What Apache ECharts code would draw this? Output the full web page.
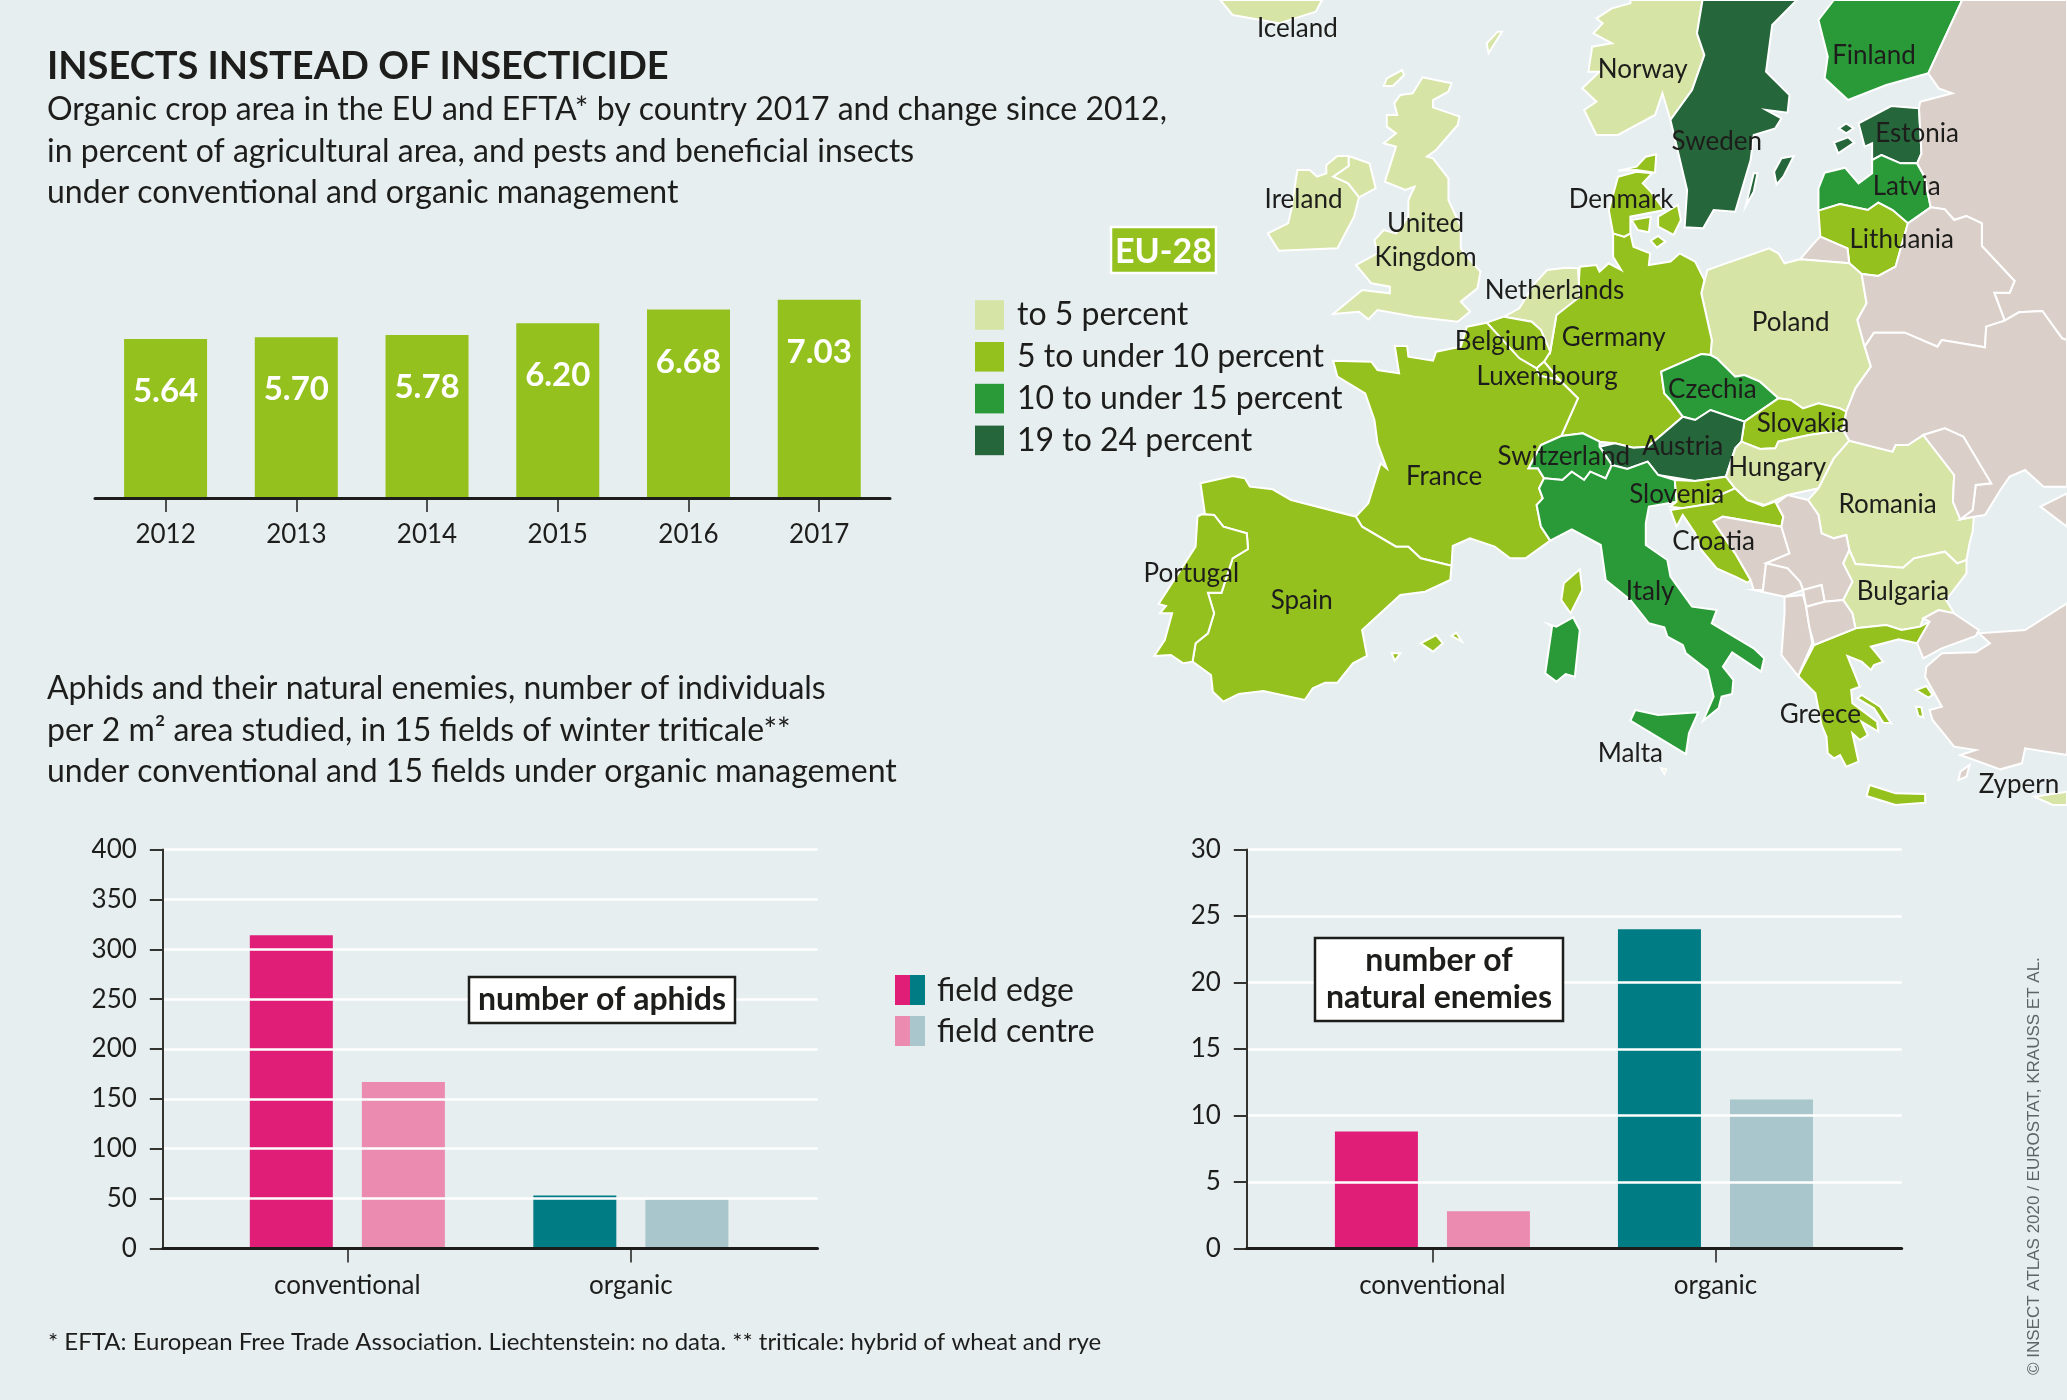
<!DOCTYPE html>
<html>
<head>
<meta charset="utf-8">
<style>html,body{margin:0;padding:0;background:#e6eef0}#main{width:2067px;height:1400px}</style>
<script src="https://cdn.jsdelivr.net/npm/echarts@6/dist/echarts.min.js"></script>
</head>
<body>
<div id="main"></div>
<script>
// chart data
var years = ['2012', '2013', '2014', '2015', '2016', '2017'];
var organicShare = [5.64, 5.70, 5.78, 6.20, 6.68, 7.03];
var fieldTypes = ['conventional', 'organic'];
var aphidsEdge = [314, 53];
var aphidsCentre = [167, 49];
var enemiesEdge = [8.8, 24];
var enemiesCentre = [2.8, 11.2];

// map classes, 1: to 5, 2: 5-10, 3: 10-15, 4: 19-24
var class1 = ['Iceland', 'Norway', 'United Kingdom', 'Northern Ireland', 'Ireland', 'Poland', 'Netherlands', 'Hungary', 'Romania', 'Bulgaria', 'Malta', 'Zypern'];
var class2 = ['France', 'Germany', 'Spain', 'Portugal', 'Belgium', 'Luxembourg', 'Denmark', 'Lithuania', 'Slovakia', 'Slovenia', 'Croatia', 'Greece'];
var class3 = ['Finland', 'Latvia', 'Czechia', 'Italy', 'Switzerland'];
var class4 = ['Sweden', 'Estonia', 'Austria'];
var classLabels = ['to 5 percent', '5 to under 10 percent', '10 to under 15 percent', '19 to 24 percent'];

var FONT = 'Lato, "Liberation Sans", sans-serif';
var INK = '#1d1d1b';
var LIME = '#95c11f', PINK = '#e01e78', PINK2 = '#ec8bb0', TEAL = '#007c85', TEAL2 = '#a8c6cb';
var classColors = ['#d6e4a6', LIME, '#2a9a38', '#26663b'];
var LAND = '#dbd0c9';

// hand traced outlines, [x, y] in map units, y down. cp = where the label goes
var outlines = {
  'Iceland': {cp: [320, 85], p: [[[195,0],[360,0],[350,35],[290,70],[215,45]]]},
  'United Kingdom': {cp: [528, 722], p: [
    [[523,232],[570,250],[565,275],[540,300],[540,322],[583,350],[580,375],[545,450],[530,470],[540,475],[565,535],[565,600],[585,680],[585,745],[600,780],[617,815],[612,865],[585,905],[600,935],[580,965],[510,950],[450,930],[435,958],[420,935],[378,942],[425,870],[470,880],[470,860],[440,850],[415,795],[450,760],[445,720],[460,690],[480,700],[500,650],[500,600],[510,560],[495,570],[462,545],[480,440],[460,430],[480,400],[465,380],[465,345],[482,345],[477,310],[487,285],[507,280]],
    [[490,210],[493,225],[475,258],[460,258],[465,235]],
    [[645,95],[652,95],[630,160],[627,130]]
  ]},
  'Northern Ireland': {p: [[[403,468],[437,490],[447,565],[420,592],[402,550],[378,530],[403,498]]]},
  'Ireland': {cp: [330, 600], p: [[[378,530],[402,550],[420,592],[412,650],[385,745],[290,752],[272,700],[305,670],[310,630],[320,510],[340,510],[352,530],[367,520],[367,495],[385,468],[403,468],[403,498]]]},
  'Norway': {cp: [880, 210], p: [[[860,0],[977,0],[968,100],[980,165],[960,270],[925,360],[912,280],[900,345],[840,405],[805,405],[785,330],[805,305],[782,265],[810,215],[792,215],[798,140],[830,130],[800,100],[815,70],[805,55],[830,25],[860,10]]]},
  'Sweden': {cp: [1000, 425], p: [
    [[977,0],[1130,0],[1090,75],[1080,215],[1118,285],[1115,338],[1080,330],[1105,355],[1095,385],[1060,405],[1055,480],[1030,635],[995,630],[978,685],[948,682],[952,570],[925,360],[960,270],[980,165],[968,100]],
    [[1105,475],[1125,468],[1108,530],[1097,553],[1093,515]],
    [[1060,520],[1066,520],[1060,575],[1047,618]]
  ]},
  'Finland': {cp: [1255, 168], p: [[[1190,0],[1398,0],[1343,220],[1275,255],[1213,300],[1175,235],[1180,170],[1165,60]]]},
  'Estonia': {cp: [1325, 400], p: [
    [[1283,318],[1328,325],[1332,460],[1325,490],[1298,490],[1267,465],[1252,480],[1252,430],[1240,440],[1230,370]],
    [[1210,370],[1222,385],[1210,400],[1198,385]],
    [[1213,412],[1223,428],[1197,460],[1190,428]]
  ]},
  'Latvia': {cp: [1308, 560], p: [[[1267,465],[1298,490],[1325,490],[1337,530],[1347,622],[1310,670],[1285,630],[1262,608],[1245,630],[1200,612],[1165,632],[1165,565],[1175,518],[1208,503],[1230,550],[1252,520],[1252,480]]]},
  'Lithuania': {cp: [1300, 718], p: [[[1165,632],[1200,612],[1245,630],[1262,608],[1285,630],[1310,670],[1290,800],[1262,828],[1235,822],[1215,790],[1212,745],[1168,710]]]},
  'Kaliningrad': {p: [[[1168,710],[1212,745],[1215,790],[1135,778],[1160,725]]]},
  'Poland': {cp: [1120, 968], p: [[[1085,745],[1100,760],[1110,790],[1135,778],[1215,790],[1235,822],[1243,910],[1228,960],[1240,1040],[1250,1100],[1225,1165],[1210,1235],[1200,1225],[1165,1210],[1140,1225],[1120,1200],[1100,1195],[1070,1145],[1045,1125],[1030,1130],[1000,1075],[990,1065],[992,1020],[975,880],[985,810],[1000,800]]]},
  'Germany': {cp: [833, 1012], p: [[[832,700],[850,710],[860,700],[865,740],[892,760],[890,795],[925,785],[940,760],[965,785],[980,840],[975,880],[992,1020],[990,1065],[975,1062],[910,1115],[915,1180],[925,1200],[945,1250],[920,1290],[888,1340],[865,1343],[835,1330],[810,1325],[783,1300],[748,1308],[775,1195],[745,1140],[720,1085],[730,1055],[740,945],[775,890],[778,800],[805,795],[810,815],[825,790],[845,810],[832,770]]]},
  'Denmark': {cp: [845, 600], p: [
    [[840,530],[870,515],[895,520],[880,550],[893,575],[915,630],[860,650],[860,680],[860,700],[850,710],[832,700],[825,630]],
    [[840,512],[870,500],[885,470],[902,463],[900,518],[870,510]],
    [[905,650],[937,615],[942,660],[930,705],[905,680]],
    [[862,660],[893,650],[890,697],[872,690]],
    [[905,708],[917,725],[903,743],[893,722]]
  ]},
  'Netherlands': {cp: [737, 872], p: [[[725,810],[755,803],[775,805],[778,890],[740,945],[730,1055],[715,990],[700,965],[655,950],[680,925],[705,850]]]},
  'Belgium': {cp: [650, 1025], p: [[[627,968],[655,950],[700,965],[715,990],[730,1055],[720,1085],[708,1105],[680,1075]]]},
  'Luxembourg': {cp: [725, 1130], p: [[[720,1085],[745,1140],[712,1127],[708,1105]]]},
  'France': {cp: [558, 1430], p: [
    [[378,1082],[440,1085],[450,1110],[485,1120],[478,1038],[498,1038],[500,1070],[540,1082],[545,1055],[585,1040],[595,980],[627,968],[680,1075],[708,1105],[712,1127],[745,1140],[775,1195],[748,1308],[715,1335],[695,1405],[710,1405],[720,1435],[712,1465],[718,1495],[708,1515],[715,1580],[730,1622],[690,1675],[665,1675],[640,1640],[600,1615],[572,1638],[570,1697],[520,1675],[500,1640],[480,1640],[425,1580],[415,1550],[435,1510],[455,1390],[465,1405],[450,1330],[445,1260],[430,1180],[385,1130]],
    [[778,1708],[782,1770],[763,1840],[748,1800],[752,1750]]
  ]},
  'Czechia': {cp: [993, 1168], p: [[[910,1115],[975,1062],[990,1065],[1000,1075],[1030,1130],[1045,1125],[1070,1145],[1100,1195],[1045,1265],[990,1230],[965,1260],[945,1250],[925,1200],[915,1180]]]},
  'Slovakia': {cp: [1140, 1270], p: [[[1045,1265],[1100,1195],[1120,1200],[1140,1225],[1165,1210],[1200,1225],[1210,1235],[1205,1290],[1150,1305],[1100,1325],[1095,1345],[1070,1347],[1040,1325]]]},
  'Austria': {cp: [945, 1340], p: [[[1045,1265],[1040,1325],[1030,1345],[1015,1430],[965,1443],[905,1425],[888,1385],[855,1407],[830,1395],[810,1340],[835,1330],[865,1343],[888,1340],[920,1290],[945,1250],[965,1260],[990,1230]]]},
  'Switzerland': {cp: [752, 1370], p: [[[748,1308],[783,1300],[810,1325],[810,1340],[830,1395],[820,1435],[795,1415],[785,1440],[765,1415],[750,1440],[720,1435],[710,1405],[695,1405],[715,1335]]]},
  'Italy': {cp: [892, 1775], p: [
    [[720,1435],[750,1440],[765,1415],[785,1440],[795,1415],[820,1435],[830,1395],[855,1407],[888,1385],[905,1425],[932,1440],[935,1505],[890,1520],[885,1570],[885,1635],[920,1680],[925,1730],[960,1820],[1000,1830],[992,1870],[1060,1945],[1077,1975],[1072,2015],[1025,1957],[1010,2000],[1027,2040],[1025,2082],[1008,2090],[1003,2125],[978,2162],[995,2090],[985,2010],[950,1960],[945,1935],[920,1910],[915,1882],[890,1870],[860,1800],[820,1740],[812,1635],[765,1588],[730,1622],[715,1580],[708,1515],[718,1495],[712,1465]],
    [[868,2130],[905,2145],[970,2137],[955,2200],[950,2262],[860,2162]],
    [[767,1852],[778,1890],[770,2030],[755,2022],[740,2045],[722,2020],[733,1880],[727,1872],[740,1880]]
  ]},
  'Malta': {cp: [860, 2262], p: [[[910,2305],[918,2308],[915,2322]]]},
  'Slovenia': {cp: [935, 1483], p: [[[932,1440],[965,1443],[1015,1430],[1030,1465],[1005,1485],[995,1510],[945,1525],[925,1520],[935,1505]]]},
  'Croatia': {cp: [995, 1625], p: [[[995,1510],[1005,1485],[1030,1465],[1050,1500],[1075,1518],[1095,1505],[1108,1550],[1105,1580],[1010,1550],[995,1565],[1030,1660],[1055,1740],[1050,1748],[1030,1730],[1000,1705],[975,1650],[965,1600],[945,1545],[935,1580],[925,1530]]]},
  'Bosnia': {p: [[[1010,1550],[1105,1580],[1118,1660],[1080,1690],[1075,1770],[1060,1770],[1055,1740],[1030,1660],[995,1565]]]},
  'Hungary': {cp: [1098, 1403], p: [[[1040,1325],[1070,1347],[1095,1345],[1100,1325],[1150,1305],[1205,1290],[1215,1322],[1190,1375],[1165,1465],[1115,1485],[1078,1515],[1050,1500],[1030,1465],[1015,1430],[1030,1345]]]},
  'Romania': {cp: [1277, 1515], p: [[[1215,1322],[1285,1355],[1290,1335],[1310,1335],[1335,1305],[1385,1425],[1383,1505],[1395,1558],[1417,1550],[1415,1595],[1410,1630],[1405,1680],[1390,1690],[1370,1655],[1320,1675],[1302,1703],[1225,1692],[1215,1650],[1210,1605],[1190,1615],[1170,1600],[1165,1545],[1148,1500],[1165,1465],[1190,1375]]]},
  'Bulgaria': {cp: [1302, 1775], p: [[[1225,1692],[1302,1703],[1320,1675],[1370,1655],[1390,1690],[1405,1680],[1405,1720],[1372,1800],[1385,1840],[1360,1830],[1335,1855],[1330,1880],[1300,1890],[1275,1875],[1225,1885],[1220,1840],[1205,1800],[1220,1745],[1205,1690],[1215,1650]]]},
  'Greece': {cp: [1168, 2145], p: [
    [[1225,1885],[1275,1875],[1300,1890],[1330,1880],[1345,1865],[1325,1930],[1295,1918],[1250,1940],[1270,1985],[1255,1995],[1250,2010],[1235,1985],[1212,1968],[1232,2060],[1218,2070],[1220,2110],[1260,2165],[1262,2195],[1235,2165],[1245,2205],[1232,2220],[1220,2200],[1230,2285],[1210,2300],[1200,2265],[1190,2275],[1180,2260],[1178,2210],[1170,2175],[1160,2080],[1132,2028],[1158,1935]],
    [[1248,2355],[1290,2380],[1338,2382],[1338,2408],[1290,2415],[1243,2388]],
    [[1235,2085],[1265,2120],[1283,2170],[1270,2168],[1255,2125],[1228,2095]],
    [[1323,2070],[1340,2058],[1350,2085],[1343,2093]],
    [[1323,2120],[1332,2122],[1335,2152],[1327,2148]]
  ]},
  'Zypern': {cp: [1490, 2355], p: [[[1515,2390],[1568,2375],[1568,2415],[1545,2415]]]},
  'Spain': {cp: [327, 1802], p: [
    [[163,1450],[215,1428],[235,1435],[243,1460],[280,1468],[310,1500],[415,1550],[425,1580],[480,1640],[500,1640],[520,1675],[570,1697],[568,1740],[527,1775],[487,1785],[425,1890],[433,1968],[410,1990],[385,2048],[365,2048],[345,2065],[332,2100],[265,2073],[225,2082],[200,2105],[183,2075],[180,2025],[150,1985],[155,1930],[175,1900],[185,1840],[175,1778],[197,1778],[215,1675],[240,1647],[238,1600],[200,1580],[185,1545],[165,1543],[170,1540]],
    [[545,1905],[556,1930],[540,1955],[520,1930]],
    [[578,1898],[587,1925],[570,1908]],
    [[473,1960],[487,1960],[478,1982]]
  ]},
  'Portugal': {cp: [148, 1722], p: [[[165,1543],[185,1545],[200,1580],[238,1600],[240,1647],[215,1675],[197,1778],[175,1778],[185,1840],[175,1900],[155,1930],[150,1985],[135,1990],[115,1965],[88,1968],[105,1920],[117,1840],[97,1840],[107,1818],[95,1812],[155,1640],[158,1550]]]},
  'Russia': {p: [
    [[1398,0],[1568,0],[1568,1020],[1560,1015],[1528,933],[1490,937],[1467,962],[1450,878],[1475,878],[1483,843],[1430,738],[1430,670],[1405,648],[1385,660],[1370,628],[1347,622],[1337,530],[1325,490],[1332,460],[1328,325],[1330,305],[1382,280],[1360,265],[1343,220]],
    [[1568,1480],[1525,1520],[1568,1580]]
  ]},
  'Belarus': {p: [[[1347,622],[1370,628],[1385,660],[1405,648],[1430,670],[1430,738],[1483,843],[1475,878],[1450,878],[1467,962],[1437,980],[1435,1042],[1365,1020],[1358,1040],[1305,998],[1255,998],[1240,1040],[1228,960],[1243,910],[1235,822],[1262,828],[1290,800],[1310,670]]]},
  'Ukraine': {p: [[[1240,1040],[1255,998],[1305,998],[1358,1040],[1365,1020],[1435,1042],[1437,980],[1467,962],[1490,937],[1528,933],[1560,1015],[1568,1020],[1568,1460],[1530,1460],[1500,1410],[1475,1430],[1460,1470],[1435,1545],[1417,1550],[1395,1558],[1415,1530],[1420,1455],[1445,1450],[1400,1310],[1370,1285],[1335,1305],[1310,1335],[1290,1335],[1285,1355],[1215,1322],[1205,1290],[1210,1235],[1225,1165],[1250,1100]]]},
  'Moldova': {p: [[[1335,1305],[1370,1285],[1400,1310],[1445,1450],[1420,1455],[1415,1530],[1395,1558],[1383,1505],[1385,1425]]]},
  'Serbia': {p: [[[1097,1510],[1115,1485],[1148,1500],[1165,1545],[1170,1600],[1190,1615],[1210,1605],[1215,1650],[1205,1690],[1220,1745],[1205,1800],[1175,1805],[1170,1755],[1140,1770],[1135,1745],[1115,1705],[1080,1690],[1118,1660],[1105,1580],[1108,1550]]]},
  'Montenegro': {p: [[[1080,1690],[1115,1705],[1135,1745],[1140,1770],[1110,1790],[1060,1770],[1075,1770]]]},
  'Kosovo': {p: [[[1140,1770],[1170,1755],[1175,1805],[1145,1820]]]},
  'Albania': {p: [[[1110,1790],[1140,1785],[1145,1820],[1155,1930],[1132,2028],[1105,1965],[1110,1840]]]},
  'Macedonia': {p: [[[1145,1820],[1175,1805],[1205,1800],[1220,1840],[1225,1885],[1158,1935],[1150,1880]]]},
  'Turkey': {p: [
    [[1345,1865],[1335,1855],[1360,1830],[1385,1840],[1425,1890],[1420,1908],[1365,1945],[1335,1975],[1325,1930]],
    [[1568,1810],[1500,1890],[1425,1900],[1443,1930],[1420,1957],[1365,1960],[1340,2000],[1338,2030],[1365,2120],[1345,2130],[1350,2160],[1385,2240],[1420,2250],[1395,2265],[1460,2308],[1495,2290],[1500,2245],[1568,2265]],
    [[1410,2295],[1405,2330],[1392,2340],[1395,2315]]
  ]}
};

function makeGeoJson() {
  var features = [];
  for (var name in outlines) {
    var item = outlines[name];
    var polys = item.p.map(function (ring) {
      return [ring.map(function (pt) { return [pt[0], -pt[1]]; })];
    });
    var props = {name: name};
    if (item.cp) props.cp = [item.cp[0], -item.cp[1]];
    features.push({type: 'Feature', properties: props, geometry: {type: 'MultiPolygon', coordinates: polys}});
  }
  return {type: 'FeatureCollection', features: features};
}

function classData(names, value) {
  return names.map(function (n) { return {name: n, value: value}; });
}

function colorBars(values, colors) {
  return values.map(function (v, i) { return {value: v, itemStyle: {color: colors[i]}}; });
}

var frames = [
  {left: 95, right: 890, top: 286.5, bottom: 498},
  {left: 100.2, right: 884.6, top: 286.5, bottom: 498},
  {left: 162.8, right: 817.5, top: 849.6, bottom: 1248.4},
  {left: 205.6, right: 772.6, top: 849.6, bottom: 1248.4},
  {left: 1246.8, right: 1901.7, top: 849.6, bottom: 1248.4},
  {left: 1290.9, right: 1857, top: 849.6, bottom: 1248.4}
];
var grids = frames.map(function (f) {
  return {left: f.left, width: f.right - f.left, top: f.top, height: f.bottom - f.top};
});

var baseLine = {show: true, lineStyle: {color: INK, width: 3}};
var labelText = {fontFamily: FONT, fontSize: 26, color: INK};

function frameX(idx) {
  return {type: 'value', gridIndex: idx, min: 0, max: 1, z: 4, axisLine: baseLine, axisTick: {show: false}, axisLabel: {show: false}, splitLine: {show: false}};
}
function barX(idx, cats) {
  return {type: 'category', gridIndex: idx, data: cats, z: 4, axisLine: {show: false},
    axisTick: {show: true, alignWithLabel: true, length: 14, lineStyle: {color: INK, width: 1.5}},
    axisLabel: Object.assign({margin: 24, interval: 0}, labelText)};
}
function hiddenY(idx, max) {
  return {type: 'value', gridIndex: idx, min: 0, max: max, show: false, splitLine: {show: false}};
}
function shownY(idx, max, step) {
  return {type: 'value', gridIndex: idx, min: 0, max: max, interval: step, z: 3,
    axisLine: {show: true, lineStyle: {color: '#33332f', width: 2}},
    axisTick: {show: true, length: 13, lineStyle: {color: '#33332f', width: 2}},
    axisLabel: Object.assign({margin: 26}, labelText),
    splitLine: {show: true, lineStyle: {color: '#ffffff', width: 2.5}}};
}
function barSeries(name, axisIdx, values, colors) {
  return {name: name, type: 'bar', xAxisIndex: axisIdx, yAxisIndex: axisIdx, barWidth: 83, barGap: '35%', silent: true, data: colorBars(values, colors)};
}

function textBlock(text, left, top, size, lh, weight) {
  return {text: text, left: left, top: top, padding: 0, textStyle: {fontFamily: FONT, fontSize: size, lineHeight: lh, fontWeight: weight || 'normal', color: INK}};
}

function labelBox(x, y, w, h, lines) {
  var kids = [{type: 'rect', z: 20, shape: {x: x, y: y, width: w, height: h}, style: {fill: '#fff', stroke: INK, lineWidth: 2.5}}];
  lines.forEach(function (line, i) {
    kids.push({type: 'text', z: 21, x: x + w / 2, y: y + h / 2 + (i - (lines.length - 1) / 2) * 37,
      style: {text: line, fontFamily: FONT, fontSize: 32, fontWeight: 'bold', fill: INK, align: 'center', verticalAlign: 'middle'}});
  });
  return {type: 'group', children: kids};
}

function keySwatch(y, c1, c2) {
  return {type: 'group', children: [
    {type: 'rect', z: 20, shape: {x: 895, y: y, width: 15, height: 30}, style: {fill: c1}},
    {type: 'rect', z: 20, shape: {x: 910, y: y, width: 15, height: 30}, style: {fill: c2}}
  ]};
}
function keyText(y, text) {
  return {type: 'text', z: 20, x: 937, y: y, style: {text: text, fontFamily: FONT, fontSize: 32, fill: INK, verticalAlign: 'middle'}};
}

echarts.registerMap('europe', makeGeoJson());

var chart = echarts.init(document.getElementById('main'), null, {renderer: 'canvas'});
chart.setOption({
  backgroundColor: '#e6eef0',
  animation: false,
  title: [
    textBlock('INSECTS INSTEAD OF INSECTICIDE', 47, 46, 38, 42, 'bold'),
    textBlock('Organic crop area in the EU and EFTA* by country 2017 and change since 2012,\nin percent of agricultural area, and pests and beneficial insects\nunder conventional and organic management', 47, 89, 32, 41.5),
    textBlock('Aphids and their natural enemies, number of individuals\nper 2 m² area studied, in 15 fields of winter triticale**\nunder conventional and 15 fields under organic management', 47, 668, 32, 41.5),
    textBlock('* EFTA: European Free Trade Association. Liechtenstein: no data. ** triticale: hybrid of wheat and rye', 48, 1328, 24, 28)
  ],
  grid: grids,
  xAxis: [frameX(0), barX(1, years), frameX(2), barX(3, fieldTypes), frameX(4), barX(5, fieldTypes)],
  yAxis: [hiddenY(0, 7.5), hiddenY(1, 7.5), shownY(2, 400, 50), hiddenY(3, 400), shownY(4, 30, 5), hiddenY(5, 30)],
  visualMap: {
    type: 'piecewise', seriesIndex: 0, left: 975, top: 299, orient: 'vertical', inverse: true, align: 'left',
    itemWidth: 29, itemHeight: 29.6, itemGap: 9.8, textGap: 13, itemSymbol: 'rect', selectedMode: false, hoverLink: false, padding: 0,
    textStyle: {fontFamily: FONT, fontSize: 32, color: INK},
    pieces: classLabels.map(function (t, i) { return {value: i + 1, label: t, color: classColors[i]}; })
  },
  series: [
    {
      type: 'map', map: 'europe', roam: false, silent: true, z: 1,
      left: 1100, top: 0, width: 967, height: 820,
      boundingCoords: [[0, 0], [1568, -2460]], aspectScale: 1.85,
      itemStyle: {areaColor: LAND, borderColor: '#ffffff', borderWidth: 2},
      label: {
        show: true, fontFamily: FONT, fontSize: 26, color: INK, lineHeight: 34,
        formatter: function (p) {
          if (!outlines[p.name].cp) return '';
          return p.name == 'United Kingdom' ? 'United\nKingdom' : p.name;
        }
      },
      data: classData(class1, 1).concat(classData(class2, 2), classData(class3, 3), classData(class4, 4))
    },
    {
      name: 'organic share', type: 'bar', xAxisIndex: 1, yAxisIndex: 1, barWidth: 83, silent: true,
      itemStyle: {color: LIME}, data: organicShare,
      label: {show: true, position: 'insideTop', distance: 36, formatter: function (p) { return p.value.toFixed(2); }, fontFamily: FONT, fontSize: 33, fontWeight: 'bold', color: '#fff'}
    },
    barSeries('field edge', 3, aphidsEdge, [PINK, TEAL]),
    barSeries('field centre', 3, aphidsCentre, [PINK2, TEAL2]),
    barSeries('field edge', 5, enemiesEdge, [PINK, TEAL]),
    barSeries('field centre', 5, enemiesCentre, [PINK2, TEAL2])
  ],
  graphic: [
    labelBox(469, 977, 266, 46, ['number of aphids']),
    labelBox(1315, 938, 248, 83, ['number of', 'natural enemies']),
    keySwatch(975, PINK, TEAL),
    keySwatch(1016, PINK2, TEAL2),
    keyText(991, 'field edge'),
    keyText(1032, 'field centre'),
    {type: 'group', children: [
      {type: 'rect', z: 20, shape: {x: 1111, y: 227, width: 105, height: 46}, style: {fill: LIME, stroke: '#fff', lineWidth: 2.5}},
      {type: 'text', z: 21, x: 1163.5, y: 252, style: {text: 'EU-28', fontFamily: FONT, fontSize: 34, fontWeight: 'bold', fill: '#fff', align: 'center', verticalAlign: 'middle'}}
    ]},
    {type: 'text', z: 20, x: 2034, y: 1375, rotation: Math.PI / 2,
      style: {text: '© INSECT ATLAS 2020 / EUROSTAT, KRAUSS ET AL.', fontFamily: '"Liberation Sans", sans-serif', fontSize: 17, fill: '#5f6468', align: 'left', verticalAlign: 'middle'}}
  ]
});
</script>
</body>
</html>
